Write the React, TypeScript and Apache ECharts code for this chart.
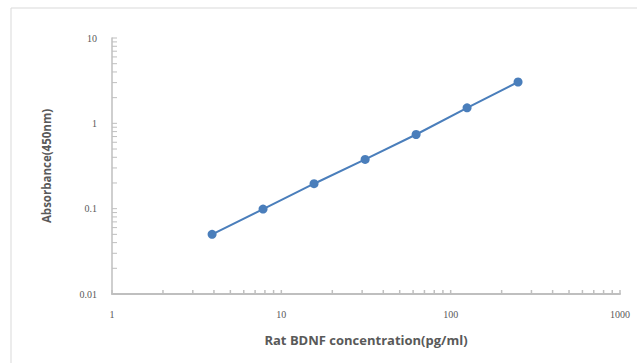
import React, { useEffect, useRef } from "react";
import * as echarts from "echarts";

const concentrations = [3.9, 7.8, 15.6, 31.25, 62.5, 125, 250];
const absorbance = [0.05, 0.099, 0.196, 0.378, 0.74, 1.52, 3.05];
const xDecades = [1, 10, 100];
const yDecades = [0.01, 0.1, 1];
const multipliers = [1, 2, 3, 4, 5, 6, 7, 8, 9];
const xTickValues = [...xDecades.flatMap((d) => multipliers.map((m) => d * m)), 1000];
const yTickValues = [...yDecades.flatMap((d) => multipliers.map((m) => +(d * m).toPrecision(6))), 10];

const AXIS_COLOR = "#bfbfbf";
const TEXT_COLOR = "#595959";

export default function App() {
  const ref = useRef<HTMLDivElement>(null);
  useEffect(() => {
    if (!ref.current) return;
    const chart = echarts.init(ref.current, null, { renderer: "svg" });
    const fmt = (v: number) => String(+Number(v).toPrecision(6));
    chart.setOption({
      animation: false,
      backgroundColor: "#ffffff",
      grid: { left: 112, right: 17, top: 38, bottom: 69 },
      graphic: [
        {
          type: "rect",
          shape: { x: 11, y: 8, width: 800, height: 500 },
          style: { fill: "none", stroke: "#d9d9d9", lineWidth: 1 },
          silent: true,
        },
      ],
      xAxis: {
        type: "log",
        logBase: 10,
        min: 1,
        max: 1000,
        name: "Rat BDNF concentration(pg/ml)",
        nameLocation: "middle",
        nameGap: 39,
        nameTextStyle: { color: TEXT_COLOR, fontSize: 13, fontWeight: "bold", fontFamily: "Open Sans" },
        axisLine: { show: true, lineStyle: { color: AXIS_COLOR, width: 2 } },
        axisTick: { show: false },
        splitLine: { show: false },
        axisLabel: { color: TEXT_COLOR, fontSize: 10, fontFamily: "Liberation Serif", margin: 15, formatter: fmt },
      },
      yAxis: {
        type: "log",
        logBase: 10,
        min: 0.01,
        max: 10,
        name: "Absorbance(450nm)",
        nameLocation: "middle",
        nameGap: 60,
        nameRotate: 90,
        nameTextStyle: { color: TEXT_COLOR, fontSize: 11.5, fontWeight: "bold", fontFamily: "Open Sans" },
        axisLine: { show: true, lineStyle: { color: AXIS_COLOR, width: 1.5 } },
        axisTick: { show: false },
        splitLine: { show: false },
        axisLabel: { color: TEXT_COLOR, fontSize: 10, fontFamily: "Liberation Serif", margin: 15, formatter: fmt },
      },
      series: [
        {
          type: "custom",
          silent: true,
          clip: false,
          z: 1,
          data: xTickValues.map((v) => [v, 0.01]),
          renderItem: (_p: any, api: any) => {
            const pt = api.coord([api.value(0), api.value(1)]);
            return {
              type: "line",
              shape: { x1: pt[0], y1: pt[1] - 4, x2: pt[0], y2: pt[1] },
              style: { stroke: AXIS_COLOR, lineWidth: 1.5 },
            };
          },
        },
        {
          type: "custom",
          silent: true,
          clip: false,
          z: 1,
          data: yTickValues.map((v) => [1, v]),
          renderItem: (_p: any, api: any) => {
            const pt = api.coord([api.value(0), api.value(1)]);
            return {
              type: "line",
              shape: { x1: pt[0], y1: pt[1], x2: pt[0] + 5, y2: pt[1] },
              style: { stroke: AXIS_COLOR, lineWidth: 1 },
            };
          },
        },
        {
          type: "line",
          data: concentrations.map((c, i) => [c, absorbance[i]]),
          symbol: "circle",
          symbolSize: 9,
          lineStyle: { color: "#4a7ebb", width: 2 },
          itemStyle: { color: "#4a7ebb" },
          z: 3,
        },
      ],
    });
    return () => chart.dispose();
  }, []);
  return (
    <div
      ref={ref}
      style={{ position: "fixed", left: 0, top: 0, width: 637, height: 363 }}
    />
  );
}
